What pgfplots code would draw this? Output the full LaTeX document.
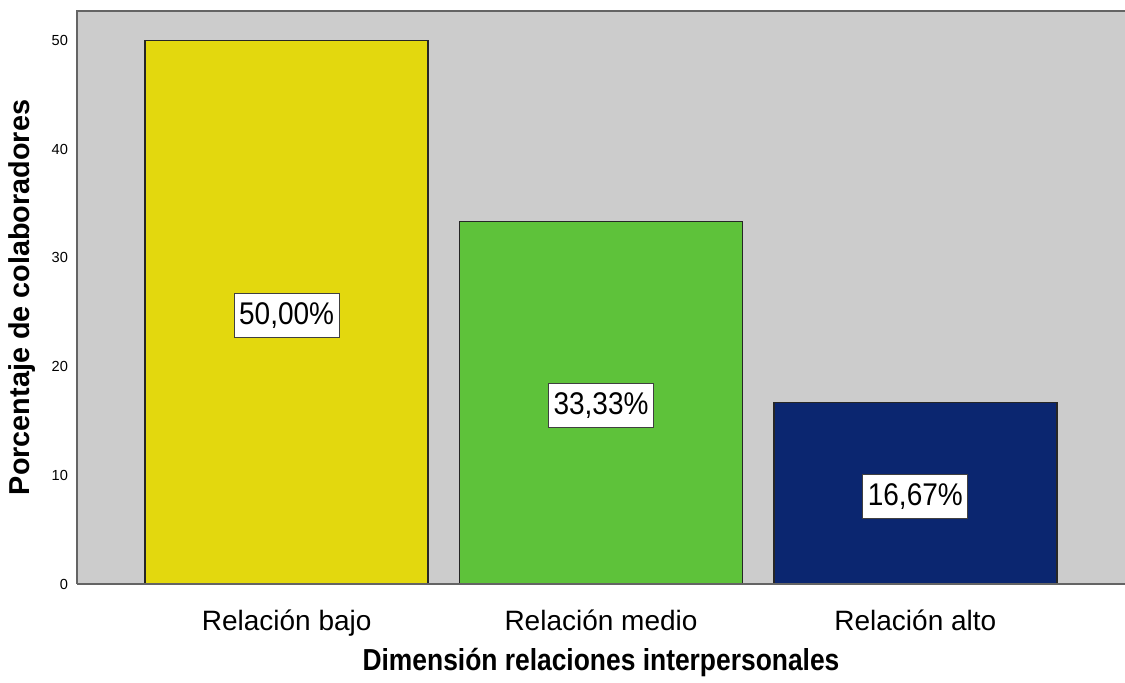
\documentclass[border=0pt]{standalone}
\usepackage{pgfplots}
\pgfplotsset{compat=1.18}
\usepackage{fontspec}
\setmainfont{Liberation Sans}

\definecolor{plotbg}{RGB}{204,204,204}
\definecolor{barbajo}{RGB}{227,216,14}
\definecolor{barmedio}{RGB}{94,194,58}
\definecolor{baralto}{RGB}{11,38,112}
\definecolor{axisgray}{RGB}{100,100,100}

\begin{document}
\begin{tikzpicture}
\useasboundingbox (-38.5pt,-49.5pt) rectangle (524pt,292pt);
\begin{axis}[
  at={(0,0)}, anchor=south west,
  scale only axis,
  width=524pt, height=286.5pt,
  xmin=-0.667, xmax=2.667,
  ymin=0, ymax=52.7,
  axis background/.style={fill=plotbg},
  axis line style={draw=none},
  tick style={draw=none},
  xtick={0,1,2},
  xticklabels={Relación bajo, Relación medio, Relación alto},
  xticklabel style={font=\fontsize{14}{16}\selectfont, anchor=base, yshift=-18.9pt},
  ytick={0,10,20,30,40,50},
  yticklabel style={font=\fontsize{7.3}{8}\selectfont, xshift=-1pt},
  /pgf/number format/assume math mode=true,
  xlabel={\scalebox{1}[1.15]{\bfseries Dimensión relaciones interpersonales}},
  ylabel={\bfseries Porcentaje de colaboradores},
  every axis x label/.style={at={(rel axis cs:0.5,0)}, anchor=base, yshift=-43.5pt,
    font=\fontsize{13.2}{15}\selectfont},
  every axis y label/.style={at={(rel axis cs:0,0.5)}, anchor=center, rotate=90,
    yshift=27.5pt, font=\fontsize{14.4}{16}\selectfont},
  ybar, bar width=0.9, bar shift=0pt,
  clip=false,
]
\addplot[fill=barbajo, draw=black!85, line width=0.75pt] coordinates {(0,50)};
\addplot[fill=barmedio, draw=black!85, line width=0.75pt] coordinates {(1,33.33)};
\addplot[fill=baralto, draw=black!85, line width=0.75pt] coordinates {(2,16.67)};

% plot frame: left, top and bottom lines only
\draw[axisgray, line width=0.9pt] (rel axis cs:0,0) -- (rel axis cs:1,0);
\draw[axisgray, line width=0.9pt] (rel axis cs:0,0) -- (rel axis cs:0,1) -- (rel axis cs:1,1);

% percentage boxes at mid height of each bar
\tikzset{pct/.style={fill=white, draw=black!75, line width=0.5pt, inner xsep=2.5pt,
  inner ysep=4.5pt, yshift=-1.5pt, font=\fontsize{14}{16}\selectfont}}
\node[pct] at (axis cs:0,25) {\scalebox{1}[1.12]{50,00\%}};
\node[pct] at (axis cs:1,16.665) {\scalebox{1}[1.12]{33,33\%}};
\node[pct] at (axis cs:2,8.335) {\scalebox{1}[1.12]{16,67\%}};
\end{axis}
\end{tikzpicture}
\end{document}
